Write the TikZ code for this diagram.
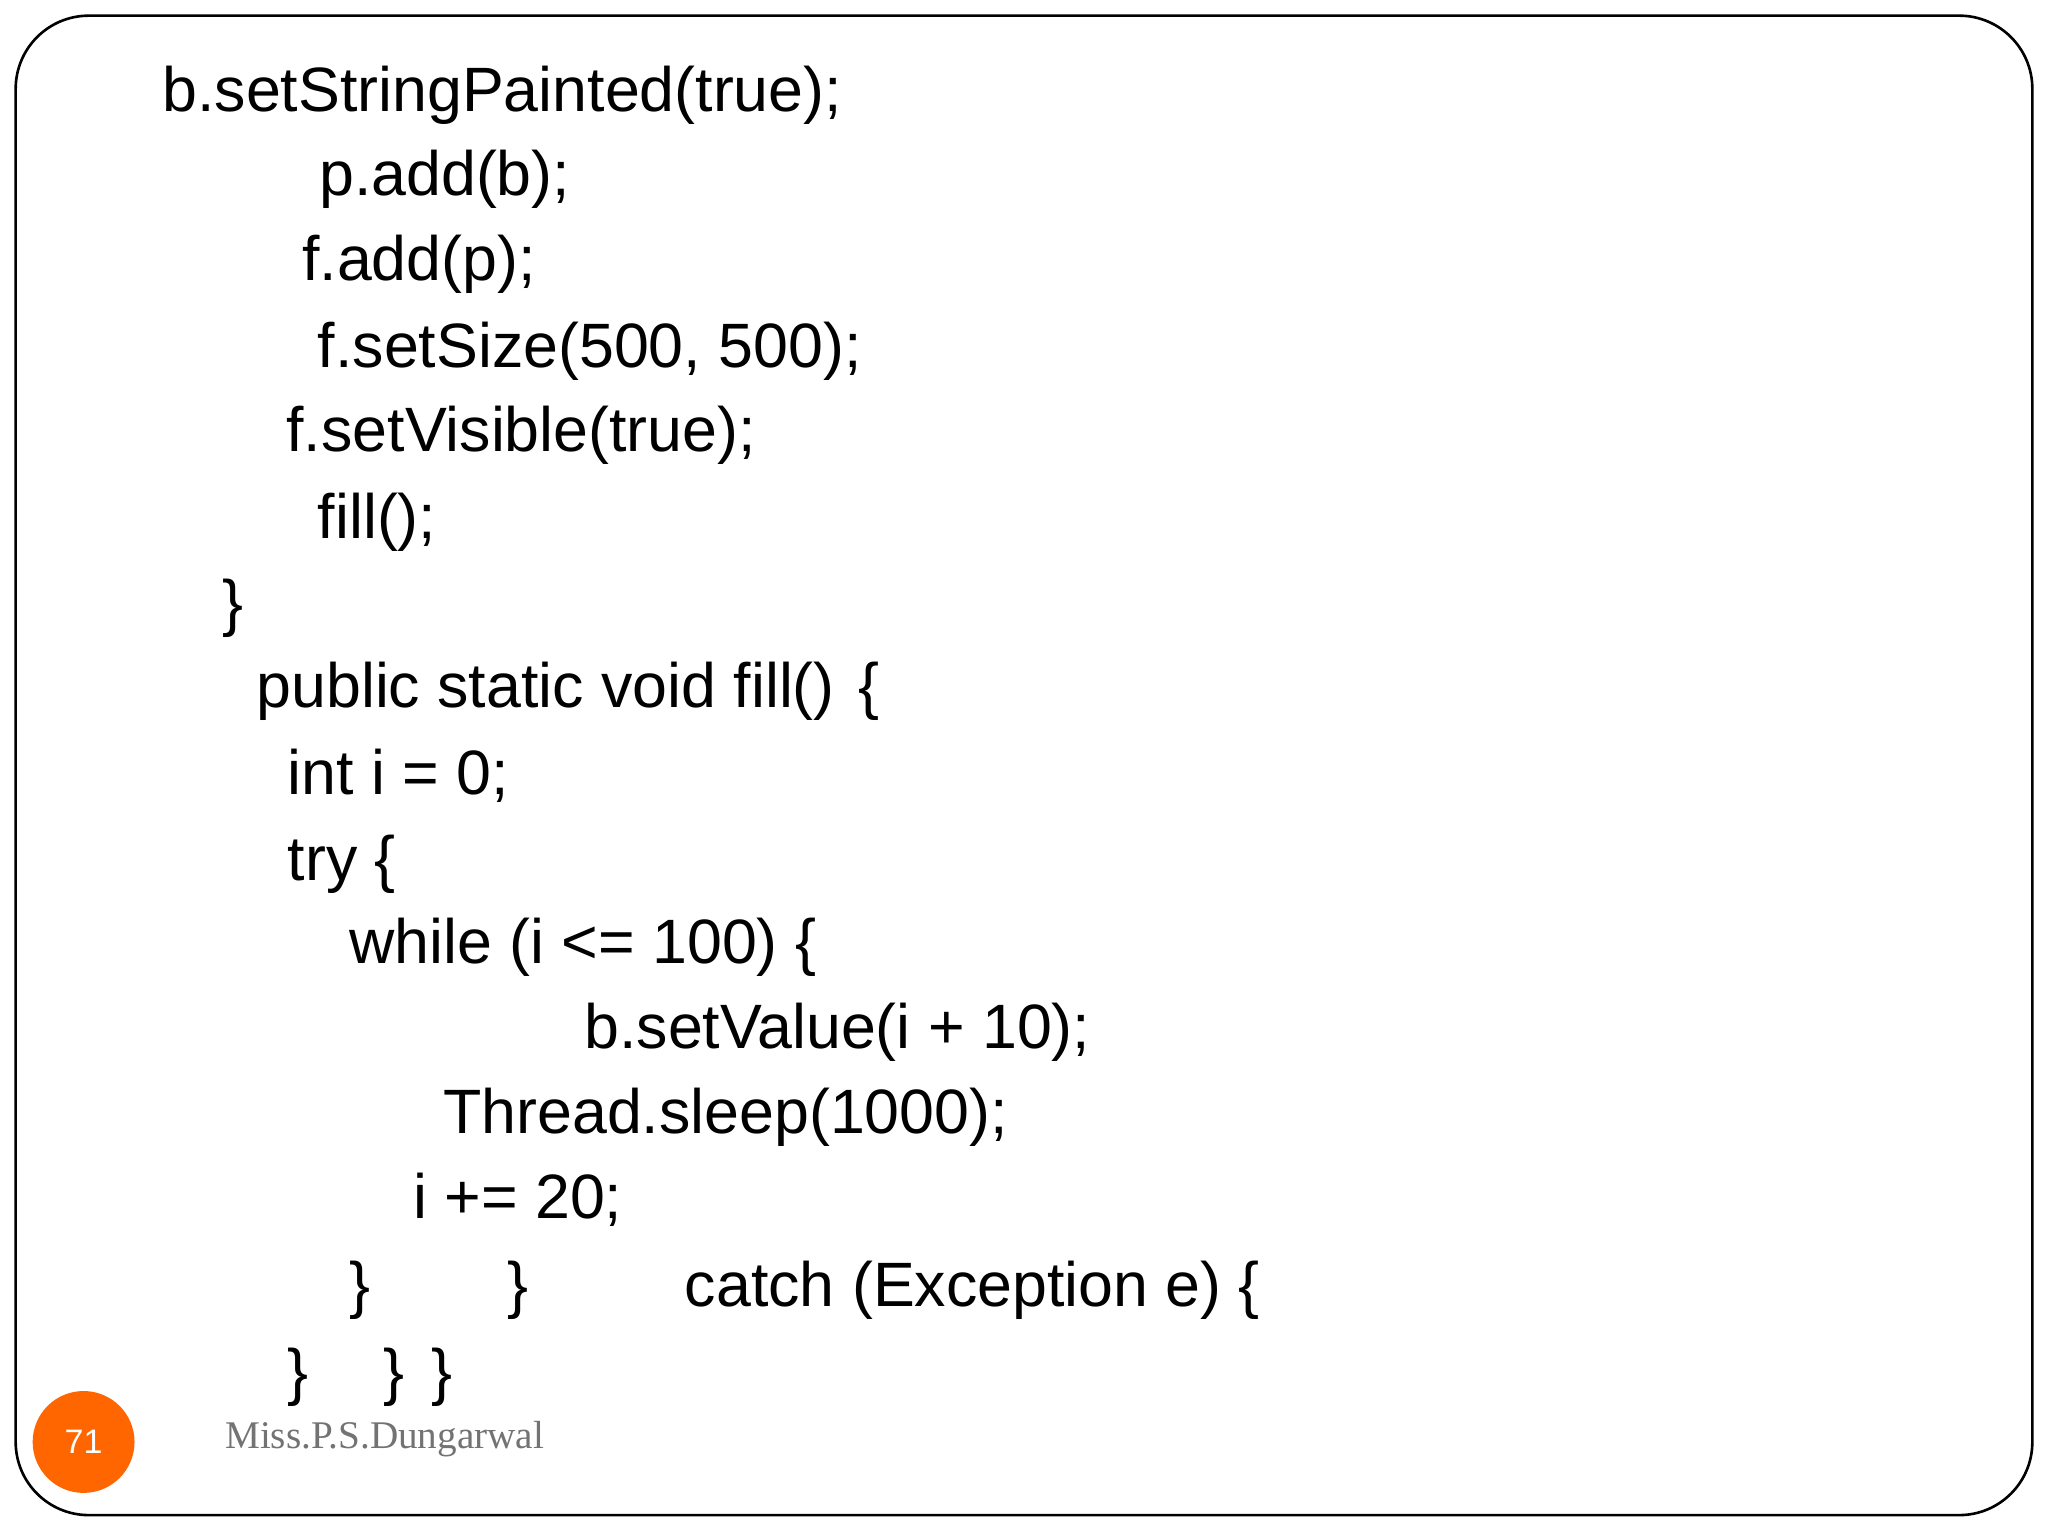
\documentclass[tikz,border=0pt]{standalone}
\usepackage{fontspec}
\setmainfont{Liberation Sans}
\newfontfamily\serifx{Liberation Serif}
\begin{document}
\begin{tikzpicture}[x=0.5pt,y=-0.5pt,
  code/.style={anchor=base west,inner sep=0pt,font=\fontsize{24}{28}\selectfont}]
\useasboundingbox (0,0) rectangle (1568,1176);
\fill[white] (0,0) rectangle (1568,1176);
\draw[line width=1pt,rounded corners=28pt] (12,12) rectangle (1556,1160);
\node[code] (l1) at (124,85) {b.setStringPainted(true);};
\node[code] (l2) at (244,150) {p.add(b);};
\node[code] (l3) at (231,215) {f.add(p);};
\node[code] (l4) at (243,281) {f.setSize(500, 500);};
\node[code] (l5) at (219,346) {f.setVisible(true);};
\node[code] (l6) at (243,412) {fill();};
\node[code] (l7) at (170,478) {\}};
\node[code] (l8) at (196,542) {public static void fill()};
\node[code] (l8b) at (657,542) {\{};
\node[code] (l9) at (220,608) {int i = 0;};
\node[code] (l10) at (220,674) {try \{};
\node[code] (l11) at (267,738) {while (i <= 100) \{};
\node[code] (l12) at (447,803) {b.setValue(i + 10);};
\node[code] (l13) at (339,868) {Thread.sleep(1000);};
\node[code] (l14) at (316,933) {i += 20;};
\node[code] (l15a) at (267,1000) {\}};
\node[code] (l15b) at (388,1000) {\}};
\node[code] (l15c) at (524,1000) {catch (Exception e) \{};
\node[code] (l16a) at (220,1067) {\}};
\node[code] (l16b) at (293,1067) {\}};
\node[code] (l16c) at (330,1067) {\}};
\node[circle,fill=orange!80!red,minimum size=78pt*0.5,inner sep=0pt,text=white,font=\fontsize{13}{15}\selectfont] (pg) at (64,1104) {71};
\node[anchor=base west,inner sep=0pt,text=gray!90!black,font=\serifx\fontsize{15}{18}\selectfont] (au) at (172,1109) {Miss.P.S.Dungarwal};
\end{tikzpicture}
\end{document}
